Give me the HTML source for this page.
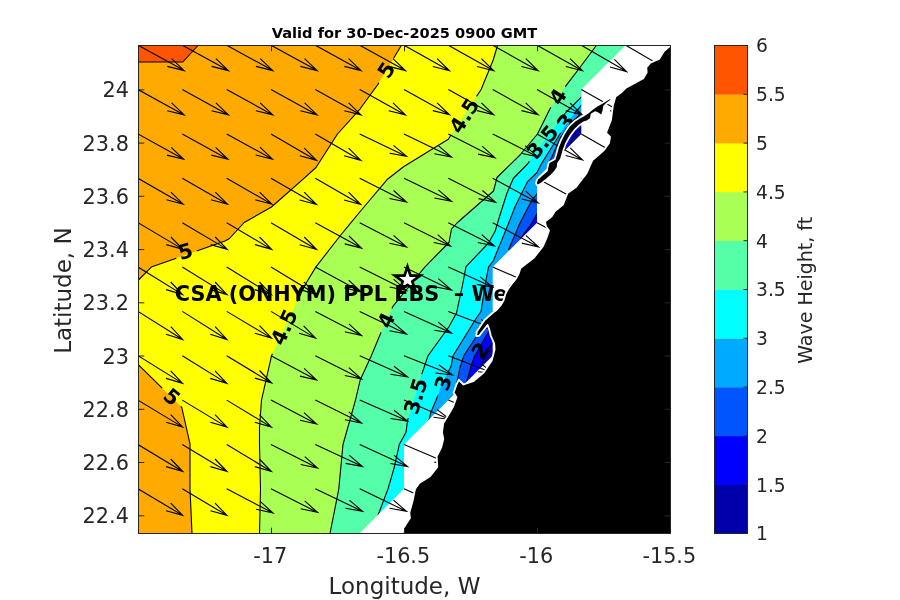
<!DOCTYPE html>
<html><head><meta charset="utf-8"><title>Wave Height</title>
<style>html,body{margin:0;padding:0;background:#fff}svg{display:block}text{font-family:"DejaVu Sans","Liberation Sans",sans-serif;fill:#262626}.b{font-weight:bold;fill:#000}</style></head><body>
<svg width="900" height="600" viewBox="0 0 900 600">
<rect width="900" height="600" fill="#fff"/>
<defs><clipPath id="ax"><rect x="138.5" y="45.5" width="532.0" height="488.0"/></clipPath>
<mask id="dat" maskUnits="userSpaceOnUse" x="0" y="0" width="900" height="600"><polygon points="138.0,45.2 625.7,45.2 581.3,89.6 581.3,133.9 537.0,178.3 537.0,222.7 492.7,267.0 492.7,355.7 404.0,444.5 404.0,488.8 359.7,533.2 138.0,533.2" fill="#fff"/></mask></defs>
<g mask="url(#dat)">
<rect x="100" y="0" width="640" height="600" fill="#ffaa00"/>
<polygon points="138.5,45.5 198.0,45.5 182.8,62.0 138.5,62.0" fill="#ff5500"/>
<polygon points="401.3,45.5 377.5,85.0 360.2,108.8 337.5,134.0 316.0,167.5 304.0,178.4 271.5,207.0 244.2,222.5 229.5,238.5 225.0,241.0 151.3,267.1 138.5,280.0 138.5,364.8 181.8,407.5 190.0,443.8 190.0,488.9 192.0,533.5 760.0,620.0 760.0,-20.0" fill="#ffff00"/>
<polygon points="497.5,45.5 493.2,60.0 481.0,89.7 448.3,139.2 403.5,166.7 387.5,179.2 360.2,211.5 351.0,222.7 340.0,236.0 315.8,267.1 305.0,285.0 271.5,355.8 261.5,400.2 259.5,427.5 259.5,444.5 260.5,488.9 259.5,533.5 259.5,620.0 760.0,620.0 760.0,-20.0" fill="#aaff55"/>
<polygon points="596.3,45.5 581.8,65.0 563.0,89.7 550.0,108.8 537.5,134.0 520.0,155.0 497.0,177.5 493.5,191.0 457.5,222.5 451.5,229.0 449.0,242.5 425.0,266.8 418.3,275.0 393.3,305.8 386.0,320.0 381.0,332.5 371.3,355.8 360.2,380.0 355.5,400.2 343.0,444.5 338.8,488.9 330.0,533.5 329.0,620.0 760.0,620.0 760.0,-20.0" fill="#55ffaa"/>
<polygon points="600.0,78.0 581.8,96.7 565.8,112.5 544.0,141.0 527.5,164.0 513.3,178.5 507.0,193.0 500.0,215.0 495.0,231.5 488.5,243.0 466.0,266.7 462.5,285.0 456.5,313.0 448.8,327.0 428.0,355.8 421.5,375.0 407.5,420.7 406.0,432.3 399.3,444.5 394.0,468.3 388.0,488.9 378.0,515.3 370.0,620.0 760.0,620.0 760.0,-20.0" fill="#00ffff"/>
<polygon points="610.0,76.0 581.8,104.6 566.7,123.3 558.3,136.7 541.7,163.3 537.0,172.5 527.5,181.7 515.0,206.7 508.3,224.0 493.2,261.0 488.5,267.1 486.0,280.0 481.0,311.5 476.7,317.5 472.5,324.3 453.0,355.8 451.0,366.3 442.5,382.8 436.0,400.2 430.8,412.5 429.0,420.0 420.0,620.0 760.0,620.0 760.0,-20.0" fill="#00aaff"/>
<polygon points="620.0,75.0 581.8,113.0 570.0,124.0 560.0,138.0 556.0,148.0 549.0,163.0 537.5,193.0 532.0,200.0 520.0,223.0 508.4,250.0 560.0,250.0 700.0,250.0" fill="#0055ff"/>
<polygon points="700.0,300.0 493.2,314.0 476.0,337.0 463.8,355.8 460.3,366.3 457.3,380.3 455.0,394.0 700.0,400.0" fill="#0055ff"/>
<polygon points="630.0,80.0 581.8,119.0 575.0,125.0 566.0,136.0 561.0,146.0 560.0,157.0 640.0,160.0" fill="#0000ff"/>
<polygon points="600.0,205.0 537.5,213.0 530.0,226.0 524.8,232.5 520.0,240.0 600.0,245.0" fill="#0000ff"/>
<polygon points="600.0,315.0 493.2,324.0 488.8,331.3 474.8,355.8 471.3,365.2 467.8,378.0 466.0,384.0 600.0,390.0" fill="#0000ff"/>
<polygon points="630.0,120.0 581.8,128.0 574.0,134.0 569.5,146.5 567.0,149.0 640.0,160.0" fill="#0000aa"/>
<polygon points="600.0,335.0 493.2,343.0 486.5,350.0 483.0,361.7 482.0,367.5 600.0,370.0" fill="#0000aa"/>
<g fill="none" stroke="#000" stroke-width="1.1" stroke-linejoin="round">
<polyline points="198.0,45.5 182.8,62.0 138.5,62.0"/>
<polyline points="401.3,45.5 393.8,58.0"/>
<polyline points="378.8,82.9 377.5,85.0 360.2,108.8 337.5,134.0 316.0,167.5 304.0,178.4 271.5,207.0 244.2,222.5 229.5,238.5 225.0,241.0 196.7,251.0"/>
<polyline points="176.3,258.2 151.3,267.1 138.5,280.0"/>
<polyline points="138.5,364.8 162.2,388.2"/>
<polyline points="180.7,406.4 181.8,407.5 190.0,443.8 190.0,488.9 192.0,533.5"/>
<polyline points="497.5,45.5 493.2,60.0 481.0,89.7 476.6,96.4"/>
<polyline points="451.2,134.8 448.3,139.2 403.5,166.7 387.5,179.2 360.2,211.5 351.0,222.7 340.0,236.0 315.8,267.1 305.0,285.0 297.2,301.5"/>
<polyline points="272.5,353.8 271.5,355.8 261.5,400.2 259.5,427.5 259.5,444.5 260.5,488.9 259.5,533.5"/>
<polyline points="596.3,45.5 581.8,65.0 565.3,86.7"/>
<polyline points="551.0,107.3 550.0,108.8 537.5,134.0 520.0,155.0 497.0,177.5 493.5,191.0 457.5,222.5 451.5,229.0 449.0,242.5 425.0,266.8 418.3,275.0 393.3,305.8 391.9,308.5"/>
<polyline points="381.1,332.3 381.0,332.5 371.3,355.8 360.2,380.0 355.5,400.2 343.0,444.5 338.8,488.9 330.0,533.5"/>
<polyline points="581.8,96.7 565.8,112.5 557.3,123.7"/>
<polyline points="529.4,161.4 527.5,164.0 513.3,178.5 507.0,193.0 500.0,215.0 495.0,231.5 488.5,243.0 466.0,266.7 462.5,285.0 456.5,313.0 448.8,327.0 428.0,355.8 421.8,374.1"/>
<polyline points="408.3,418.1 407.5,420.7 406.0,432.3 399.3,444.5 394.0,468.3 388.0,488.9 378.0,515.3"/>
<polyline points="581.8,104.6 574.2,113.9"/>
<polyline points="560.7,132.9 558.3,136.7 541.7,163.3 537.0,172.5 527.5,181.7 515.0,206.7 508.3,224.0 493.2,261.0 488.5,267.1 486.0,280.0 481.0,311.5 476.7,317.5 472.5,324.3 453.0,355.8 451.0,366.3 448.6,371.0"/>
<polyline points="437.8,395.5 436.0,400.2 430.8,412.5 429.0,420.0"/>
<polyline points="581.8,113.0 570.0,124.0 560.0,138.0 556.0,148.0 549.0,163.0 537.5,193.0 532.0,200.0 520.0,223.0 508.4,250.0"/>
<polyline points="493.2,314.0 476.0,337.0 463.8,355.8 460.3,366.3 457.3,380.3 455.0,394.0"/>
<polyline points="581.8,119.0 575.0,125.0 566.0,136.0 561.0,146.0 560.0,157.0"/>
<polyline points="537.5,213.0 530.0,226.0 524.8,232.5 520.0,240.0"/>
<polyline points="493.2,324.0 488.8,331.3 474.8,355.8 471.3,365.2 467.8,378.0 466.0,384.0"/>
<polyline points="581.8,128.0 574.0,134.0 569.5,146.5 567.0,149.0"/>
<polyline points="493.2,343.0 486.5,350.0 483.0,361.7 482.0,367.5"/>
</g></g>
<g clip-path="url(#ax)">
<path d="M138.0 45.2L184.2 70.6M167.3 66.4L184.2 70.6L171.6 58.6M182.3 45.2L228.5 70.6M211.6 66.4L228.5 70.6L215.9 58.6M226.7 45.2L272.9 70.6M255.9 66.4L272.9 70.6L260.2 58.6M271.0 45.2L317.2 70.6M300.3 66.4L317.2 70.6L304.6 58.6M315.3 45.2L361.1 70.6M344.3 66.4L361.1 70.6L348.6 58.6M359.7 45.2L405.5 70.6M388.7 66.4L405.5 70.6L393.0 58.6M404.0 45.2L449.5 70.8M432.8 66.5L449.5 70.8L437.1 58.7M448.3 45.2L493.8 70.8M477.1 66.5L493.8 70.8L481.4 58.7M492.7 45.2L538.2 70.8M521.4 66.5L538.2 70.8L525.8 58.7M537.0 45.2L582.5 70.8M565.8 66.5L582.5 70.8L570.1 58.7M581.3 45.2L626.6 71.6M609.9 67.0L626.6 71.6L614.4 59.3M625.7 45.2L671.0 71.6M654.2 67.0L671.0 71.6L658.7 59.3M670.0 45.2L715.3 71.6M698.6 67.0L715.3 71.6L703.0 59.3M138.0 89.6L184.2 114.9M167.3 110.7L184.2 114.9L171.6 102.8M182.3 89.6L228.5 114.9M211.6 110.7L228.5 114.9L215.9 102.8M226.7 89.6L272.9 114.9M255.9 110.7L272.9 114.9L260.2 102.8M271.0 89.6L317.2 114.9M300.3 110.7L317.2 114.9L304.6 102.8M315.3 89.6L361.1 114.9M344.3 110.7L361.1 114.9L348.6 102.9M359.7 89.6L405.5 114.9M388.7 110.7L405.5 114.9L393.0 102.9M404.0 89.6L449.5 114.8M432.8 110.6L449.5 114.8L437.1 102.8M448.3 89.6L493.8 114.8M477.1 110.6L493.8 114.8L481.4 102.8M492.7 89.6L538.2 114.8M521.5 110.6L538.2 114.8L525.7 102.8M537.0 89.6L582.3 115.0M565.7 110.7L582.3 115.0L570.0 103.0M581.3 89.6L626.6 115.0M610.0 110.7L626.6 115.0L614.3 103.0M625.7 89.6L671.0 115.0M654.3 110.7L671.0 115.0L658.6 103.0M670.0 89.6L715.3 115.0M698.7 110.7L715.3 115.0L703.0 103.0M138.0 133.9L183.7 159.3M166.9 155.1L183.7 159.3L171.2 147.3M182.3 133.9L228.0 159.3M211.3 155.1L228.0 159.3L215.6 147.3M226.7 133.9L272.5 159.2M255.7 155.0L272.5 159.2L260.0 147.2M271.0 133.9L316.6 160.4M299.8 155.8L316.6 160.4L304.3 148.1M315.3 133.9L360.9 160.4M344.1 155.8L360.9 160.4L348.6 148.1M359.7 133.9L406.6 156.4M389.7 153.2L406.6 156.4L393.5 145.3M404.0 133.9L451.6 157.0M434.4 153.7L451.6 157.0L438.3 145.6M448.3 133.9L495.0 157.7M478.1 154.1L495.0 157.7L482.1 146.2M492.7 133.9L537.5 156.7M521.2 153.2L537.5 156.7L525.1 145.6M537.0 133.9L582.5 160.0M565.7 155.5L582.5 160.0L570.2 147.8M581.3 133.9L626.8 160.0M610.1 155.5L626.8 160.0L614.5 147.8M625.7 133.9L671.2 160.0M654.4 155.5L671.2 160.0L658.8 147.8M670.0 133.9L715.5 160.0M698.7 155.5L715.5 160.0L703.2 147.8M138.0 178.3L183.2 204.2M166.5 199.7L183.2 204.2L170.9 192.1M182.3 178.3L227.5 204.2M210.9 199.7L227.5 204.2L215.3 192.1M226.7 178.3L271.9 204.2M255.2 199.7L271.9 204.2L259.6 192.1M271.0 178.3L316.5 204.5M299.7 200.0L316.5 204.5L304.2 192.2M315.3 178.3L360.8 204.5M344.1 200.0L360.8 204.5L348.5 192.2M359.7 178.3L406.6 202.1M389.5 198.5L406.6 202.1L393.6 190.5M404.0 178.3L451.6 201.3M434.4 198.0L451.6 201.3L438.3 189.9M448.3 178.3L495.6 202.2M478.5 198.6L495.6 202.2L482.5 190.5M492.7 178.3L538.3 203.0M521.6 199.0L538.3 203.0L525.8 191.2M537.0 178.3L582.6 203.0M565.9 199.0L582.6 203.0L570.1 191.2M581.3 178.3L626.9 203.0M610.2 199.0L626.9 203.0L614.4 191.2M625.7 178.3L671.3 203.0M654.6 199.0L671.3 203.0L658.8 191.2M670.0 178.3L715.6 203.0M698.9 199.0L715.6 203.0L703.1 191.2M138.0 222.7L183.0 249.4M166.3 244.6L183.0 249.4L170.9 237.0M182.3 222.7L227.3 249.4M210.7 244.6L227.3 249.4L215.2 237.0M226.7 222.7L271.7 249.4M255.0 244.6L271.7 249.4L259.5 237.0M271.0 222.7L316.6 249.5M299.7 244.7L316.6 249.5L304.3 237.0M315.3 222.7L361.6 248.1M344.7 243.9L361.6 248.1L349.0 236.0M359.7 222.7L406.6 247.1M389.5 243.2L406.6 247.1L393.6 235.3M404.0 222.7L450.6 246.1M433.7 242.5L450.6 246.1L437.7 234.6M448.3 222.7L494.6 246.1M477.8 242.5L494.6 246.1L481.8 234.6M492.7 222.7L538.6 247.1M521.8 243.1L538.6 247.1L525.9 235.4M537.0 222.7L582.9 247.1M566.1 243.1L582.9 247.1L570.3 235.4M581.3 222.7L627.2 247.1M610.5 243.1L627.2 247.1L614.6 235.4M625.7 222.7L671.6 247.1M654.8 243.1L671.6 247.1L658.9 235.4M670.0 222.7L715.9 247.1M699.1 243.1L715.9 247.1L703.3 235.4M138.0 267.0L182.7 294.6M166.1 289.6L182.7 294.6L170.7 282.0M182.3 267.0L227.0 294.6M210.4 289.6L227.0 294.6L215.1 282.0M226.7 267.0L271.4 294.6M254.7 289.6L271.4 294.6L259.4 282.0M271.0 267.0L316.0 294.3M299.3 289.4L316.0 294.3L303.9 281.8M315.3 267.0L361.3 292.0M344.5 287.9L361.3 292.0L348.7 280.1M359.7 267.0L406.6 290.6M389.6 287.0L406.6 290.6L393.6 279.1M404.0 267.0L451.6 290.1M434.4 286.8L451.6 290.1L438.3 278.7M448.3 267.0L492.6 287.0M476.8 284.4L492.6 287.0L480.2 276.9M492.7 267.0L537.7 286.6M521.6 284.2L537.7 286.6L524.9 276.5M537.0 267.0L582.0 286.6M565.9 284.2L582.0 286.6L569.3 276.5M581.3 267.0L626.3 286.6M610.3 284.2L626.3 286.6L613.6 276.5M625.7 267.0L670.7 286.6M654.6 284.2L670.7 286.6L657.9 276.5M670.0 267.0L715.0 286.6M698.9 284.2L715.0 286.6L702.3 276.5M138.0 311.4L182.7 339.5M166.0 334.3L182.7 339.5L170.8 326.7M182.3 311.4L227.0 339.5M210.3 334.3L227.0 339.5L215.1 326.7M226.7 311.4L271.6 338.1M254.9 333.3L271.6 338.1L259.5 325.7M271.0 311.4L315.6 338.1M299.1 333.3L315.6 338.1L303.6 325.8M315.3 311.4L361.6 335.5M344.8 331.7L361.6 335.5L348.9 323.8M359.7 311.4L406.6 334.1M389.6 330.8L406.6 334.1L393.5 322.8M404.0 311.4L451.6 333.1M434.5 330.2L451.6 333.1L438.2 322.1M448.3 311.4L494.3 329.0M478.1 327.3L494.3 329.0L481.1 319.4M492.7 311.4L538.7 329.0M522.5 327.3L538.7 329.0L525.4 319.4M537.0 311.4L583.0 329.0M566.8 327.3L583.0 329.0L569.8 319.4M581.3 311.4L627.3 329.0M611.1 327.3L627.3 329.0L614.1 319.4M625.7 311.4L671.7 329.0M655.5 327.3L671.7 329.0L658.4 319.4M670.0 311.4L716.0 329.0M699.8 327.3L716.0 329.0L702.8 319.4M138.0 355.7L182.6 383.4M166.0 378.4L182.6 383.4L170.7 370.8M182.3 355.7L226.9 383.4M210.3 378.4L226.9 383.4L215.0 370.8M226.7 355.7L271.6 383.0M254.9 378.1L271.6 383.0L259.5 370.5M271.0 355.7L316.6 380.0M299.9 376.1L316.6 380.0L304.1 368.4M315.3 355.7L361.6 379.0M344.8 375.5L361.6 379.0L348.8 367.7M359.7 355.7L407.6 377.0M390.4 374.3L407.6 377.0L394.0 366.2M404.0 355.7L452.6 375.0M435.4 373.0L452.6 375.0L438.7 364.7M448.3 355.7L494.3 373.5M478.1 371.8L494.3 373.5L481.1 363.9M492.7 355.7L538.7 373.5M522.4 371.8L538.7 373.5L525.5 363.9M537.0 355.7L583.0 373.5M566.8 371.8L583.0 373.5L569.8 363.9M581.3 355.7L627.3 373.5M611.1 371.8L627.3 373.5L614.1 363.9M625.7 355.7L671.7 373.5M655.4 371.8L671.7 373.5L658.5 363.9M670.0 355.7L716.0 373.5M699.8 371.8L716.0 373.5L702.8 363.9M138.0 400.1L182.7 427.1M166.1 422.3L182.7 427.1L170.7 414.7M182.3 400.1L227.0 427.1M210.4 422.3L227.0 427.1L215.0 414.7M226.7 400.1L271.4 427.1M254.8 422.3L271.4 427.1L259.4 414.7M271.0 400.1L316.6 424.1M300.0 420.3L316.6 424.1L304.0 412.6M315.3 400.1L361.6 423.1M344.9 419.7L361.6 423.1L348.8 411.8M359.7 400.1L407.6 421.1M390.5 418.5L407.6 421.1L394.0 410.3M404.0 400.1L450.0 419.5M433.6 417.2L450.0 419.5L436.9 409.4M448.3 400.1L494.3 419.5M478.0 417.2L494.3 419.5L481.3 409.4M492.7 400.1L538.7 419.5M522.3 417.2L538.7 419.5L525.6 409.4M537.0 400.1L583.0 419.5M566.6 417.2L583.0 419.5L569.9 409.4M581.3 400.1L627.3 419.5M611.0 417.2L627.3 419.5L614.3 409.4M625.7 400.1L671.7 419.5M655.3 417.2L671.7 419.5L658.6 409.4M670.0 400.1L716.0 419.5M699.6 417.2L716.0 419.5L702.9 409.4M138.0 444.5L182.7 471.5M166.1 466.6L182.7 471.5L170.7 459.0M182.3 444.5L227.0 471.5M210.4 466.6L227.0 471.5L215.0 459.0M226.7 444.5L271.4 471.5M254.8 466.6L271.4 471.5L259.4 459.0M271.0 444.5L317.6 468.1M300.7 464.5L317.6 468.1L304.7 456.6M315.3 444.5L362.6 466.5M345.6 463.4L362.6 466.5L349.4 455.4M359.7 444.5L407.6 466.5M390.4 463.5L407.6 466.5L394.1 455.4M404.0 444.5L451.0 464.5M434.3 462.1L451.0 464.5L437.7 454.1M448.3 444.5L495.3 464.5M478.6 462.1L495.3 464.5L482.0 454.1M492.7 444.5L539.7 464.5M522.9 462.1L539.7 464.5L526.3 454.1M537.0 444.5L584.0 464.5M567.3 462.1L584.0 464.5L570.7 454.1M581.3 444.5L628.3 464.5M611.6 462.1L628.3 464.5L615.0 454.1M625.7 444.5L672.7 464.5M655.9 462.1L672.7 464.5L659.3 454.1M670.0 444.5L717.0 464.5M700.3 462.1L717.0 464.5L703.7 454.1M138.0 488.8L182.7 515.4M166.1 510.7L182.7 515.4L170.7 503.1M182.3 488.8L227.0 515.4M210.5 510.7L227.0 515.4L215.0 503.1M226.7 488.8L273.0 513.0M256.1 509.2L273.0 513.0L260.2 501.4M271.0 488.8L317.6 512.4M300.7 508.8L317.6 512.4L304.7 500.9M315.3 488.8L362.6 511.4M345.6 508.2L362.6 511.4L349.4 500.2M359.7 488.8L406.6 511.4M389.6 508.2L406.6 511.4L393.5 500.2M404.0 488.8L451.0 509.8M434.2 507.1L451.0 509.8L437.7 499.1M448.3 488.8L495.3 509.8M478.5 507.1L495.3 509.8L482.1 499.1M492.7 488.8L539.7 509.8M522.8 507.1L539.7 509.8L526.4 499.1M537.0 488.8L584.0 509.8M567.2 507.1L584.0 509.8L570.7 499.1M581.3 488.8L628.3 509.8M611.5 507.1L628.3 509.8L615.1 499.1M625.7 488.8L672.7 509.8M655.8 507.1L672.7 509.8L659.4 499.1M670.0 488.8L717.0 509.8M700.2 507.1L717.0 509.8L703.7 499.1M138.0 533.2L182.7 559.2M166.2 554.7L182.7 559.2L170.6 547.1M182.3 533.2L227.0 559.2M210.5 554.7L227.0 559.2L214.9 547.1M226.7 533.2L271.4 559.2M254.9 554.7L271.4 559.2L259.3 547.1M271.0 533.2L315.7 559.2M299.2 554.7L315.7 559.2L303.6 547.1M315.3 533.2L360.0 559.2M343.5 554.7L360.0 559.2L347.9 547.1M359.7 533.2L404.4 559.2M387.9 554.7L404.4 559.2L392.3 547.1M404.0 533.2L448.7 559.2M432.2 554.7L448.7 559.2L436.6 547.1M448.3 533.2L493.0 559.2M476.5 554.7L493.0 559.2L480.9 547.1M492.7 533.2L537.4 559.2M520.9 554.7L537.4 559.2L525.3 547.1M537.0 533.2L581.7 559.2M565.2 554.7L581.7 559.2L569.6 547.1M581.3 533.2L626.0 559.2M609.5 554.7L626.0 559.2L613.9 547.1M625.7 533.2L670.4 559.2M653.9 554.7L670.4 559.2L658.3 547.1M670.0 533.2L714.7 559.2M698.2 554.7L714.7 559.2L702.6 547.1" fill="none" stroke="#000" stroke-width="1.1"/>
<polygon points="407.5,266.6 410.5,275.7 420.1,275.7 412.3,281.4 415.3,290.5 407.5,284.8 399.7,290.5 402.7,281.4 394.9,275.7 404.5,275.7" fill="#fff" stroke="#000" stroke-width="2.7" stroke-miterlimit="10"/>
<text class="b" font-size="20.6" text-anchor="middle" transform="translate(386.0 70.0) rotate(-57)" y="7.5">5</text>
<text class="b" font-size="20.6" text-anchor="middle" transform="translate(185.3 251.0) rotate(-16)" y="7.5">5</text>
<text class="b" font-size="20.6" text-anchor="middle" transform="translate(172.0 396.5) rotate(40)" y="7.5">5</text>
<text class="b" font-size="20.6" text-anchor="middle" transform="translate(464.0 115.5) rotate(-57)" y="7.5">4.5</text>
<text class="b" font-size="20.6" text-anchor="middle" transform="translate(283.8 327.0) rotate(-65)" y="7.5">4.5</text>
<text class="b" font-size="20.6" text-anchor="middle" transform="translate(557.5 96.5) rotate(-57)" y="7.5">4</text>
<text class="b" font-size="20.6" text-anchor="middle" transform="translate(386.0 320.0) rotate(-65)" y="7.5">4</text>
<text class="b" font-size="20.6" text-anchor="middle" transform="translate(542.3 141.7) rotate(-50)" y="7.5">3.5</text>
<text class="b" font-size="20.6" text-anchor="middle" transform="translate(415.5 396.0) rotate(-73)" y="7.5">3.5</text>
<text class="b" font-size="20.6" text-anchor="middle" transform="translate(565.5 121.8) rotate(-52)" y="7.5">3</text>
<text class="b" font-size="20.6" text-anchor="middle" transform="translate(443.0 383.0) rotate(-70)" y="7.5">3</text>
<text class="b" font-size="20.6" text-anchor="middle" transform="translate(480.0 350.6) rotate(-52)" y="7.5">2</text>
<text class="b" font-size="20.8" x="174.8" y="301" xml:space="preserve">CSA (ONHYM) PPL EBS  – Well</text>
<polygon points="680.0,36.0 671.0,45.0 664.0,51.0 659.0,59.0 650.3,62.7 646.3,67.5 646.7,72.5 643.0,78.5 625.5,88.0 621.0,92.5 615.5,96.5 613.0,105.0 611.0,120.0 606.0,133.0 610.0,137.0 609.0,143.0 604.0,150.0 592.5,160.0 588.0,170.0 586.0,174.0 579.0,183.0 576.0,187.0 567.5,193.0 563.0,204.5 555.0,211.0 551.5,216.5 545.0,221.5 546.0,226.5 549.0,230.5 546.5,238.0 543.0,246.0 540.0,250.0 534.0,257.5 520.5,268.0 518.5,274.0 515.7,279.0 511.3,284.5 508.0,289.0 505.5,293.5 503.5,300.5 500.5,305.5 496.5,310.0 493.0,312.5 484.2,320.4 476.8,331.5 476.2,336.0 479.2,335.8 487.5,325.0 489.2,329.2 490.8,335.8 494.2,343.5 494.6,349.5 491.7,360.5 483.7,372.5 473.2,381.2 463.5,384.5 458.8,379.8 456.5,384.5 453.6,392.7 456.5,397.3 453.0,406.7 447.0,417.0 443.3,423.0 442.0,432.3 443.3,439.0 441.3,447.0 436.7,456.3 437.3,467.0 430.0,476.3 419.3,483.0 415.0,489.0 412.7,500.7 409.3,512.7 410.0,518.0 404.7,526.0 402.3,534.0 401.0,545.0 680.0,545.0" fill="#000" stroke="#fff" stroke-width="1.8" stroke-linejoin="round"/>
<polygon points="610.2,99.1 603.3,103.2 597.5,106.6 592.5,110.0 588.7,113.2 584.2,116.2 580.0,118.6 575.0,121.7 569.5,127.0 565.0,134.0 561.5,141.0 559.0,147.3 557.0,154.7 555.5,159.7 549.5,163.0 548.4,167.2 547.7,171.3 542.6,175.5 538.0,179.7 536.8,183.0 537.6,184.6 540.5,183.0 544.7,179.7 549.8,175.5 554.0,171.3 556.7,167.2 557.2,163.0 560.1,158.8 561.2,155.0 562.6,150.0 565.2,143.0 569.5,135.3 574.0,129.3 579.0,124.6 583.3,121.5 586.7,120.4 590.0,118.3 590.8,113.8 595.0,111.3 597.5,112.1 601.2,114.6 602.5,110.8 603.3,105.8 605.8,103.3 610.4,99.7" fill="#000" stroke="#fff" stroke-width="3.4" stroke-linejoin="round" paint-order="stroke"/>
</g>
<g fill="none" stroke="#262626" stroke-width="1">
<rect x="138.5" y="45.5" width="532.0" height="488.0"/>
<path d="M271.5 533.5v-5.8M271.5 45.5v5.8M404.5 533.5v-5.8M404.5 45.5v5.8M537.5 533.5v-5.8M537.5 45.5v5.8M670.5 533.5v-5.8M670.5 45.5v5.8M138.5 515.8h5.8M670.5 515.8h-5.8M138.5 462.5h5.8M670.5 462.5h-5.8M138.5 409.3h5.8M670.5 409.3h-5.8M138.5 356.0h5.8M670.5 356.0h-5.8M138.5 302.8h5.8M670.5 302.8h-5.8M138.5 249.6h5.8M670.5 249.6h-5.8M138.5 196.3h5.8M670.5 196.3h-5.8M138.5 143.1h5.8M670.5 143.1h-5.8M138.5 89.9h5.8M670.5 89.9h-5.8"/>
</g>
<text font-size="20.8" text-anchor="middle" x="270.3" y="563">-17</text>
<text font-size="20.8" text-anchor="middle" x="403.3" y="563">-16.5</text>
<text font-size="20.8" text-anchor="middle" x="536.3" y="563">-16</text>
<text font-size="20.8" text-anchor="middle" x="669.3" y="563">-15.5</text>
<text font-size="20.8" text-anchor="end" x="128.9" y="523.3">22.4</text>
<text font-size="20.8" text-anchor="end" x="128.9" y="470.0">22.6</text>
<text font-size="20.8" text-anchor="end" x="128.9" y="416.8">22.8</text>
<text font-size="20.8" text-anchor="end" x="128.9" y="363.5">23</text>
<text font-size="20.8" text-anchor="end" x="128.9" y="310.3">23.2</text>
<text font-size="20.8" text-anchor="end" x="128.9" y="257.1">23.4</text>
<text font-size="20.8" text-anchor="end" x="128.9" y="203.8">23.6</text>
<text font-size="20.8" text-anchor="end" x="128.9" y="150.6">23.8</text>
<text font-size="20.8" text-anchor="end" x="128.9" y="97.4">24</text>
<text font-size="23" text-anchor="middle" x="404.5" y="593.7">Longitude, W</text>
<text font-size="23" text-anchor="middle" transform="translate(70.6 290.6) rotate(-90)">Latitude, N</text>
<text font-size="14.6" font-weight="bold" style="fill:#000" text-anchor="middle" x="404.5" y="38">Valid for 30-Dec-2025 0900 GMT</text>
<rect x="714.5" y="484.70" width="33.0" height="49.10" fill="#0000aa"/>
<rect x="714.5" y="435.90" width="33.0" height="49.10" fill="#0000ff"/>
<rect x="714.5" y="387.10" width="33.0" height="49.10" fill="#0055ff"/>
<rect x="714.5" y="338.30" width="33.0" height="49.10" fill="#00aaff"/>
<rect x="714.5" y="289.50" width="33.0" height="49.10" fill="#00ffff"/>
<rect x="714.5" y="240.70" width="33.0" height="49.10" fill="#55ffaa"/>
<rect x="714.5" y="191.90" width="33.0" height="49.10" fill="#aaff55"/>
<rect x="714.5" y="143.10" width="33.0" height="49.10" fill="#ffff00"/>
<rect x="714.5" y="94.30" width="33.0" height="49.10" fill="#ffaa00"/>
<rect x="714.5" y="45.50" width="33.0" height="49.10" fill="#ff5500"/>
<rect x="714.5" y="45.5" width="33.0" height="488.0" fill="none" stroke="#262626" stroke-width="1"/>
<path d="M747.5 484.7h-4M747.5 435.9h-4M747.5 387.1h-4M747.5 338.3h-4M747.5 289.5h-4M747.5 240.7h-4M747.5 191.9h-4M747.5 143.1h-4M747.5 94.3h-4" fill="none" stroke="#262626" stroke-width="1"/>
<text font-size="18.7" x="756" y="540.3">1</text>
<text font-size="18.7" x="756" y="491.5">1.5</text>
<text font-size="18.7" x="756" y="442.7">2</text>
<text font-size="18.7" x="756" y="393.9">2.5</text>
<text font-size="18.7" x="756" y="345.1">3</text>
<text font-size="18.7" x="756" y="296.3">3.5</text>
<text font-size="18.7" x="756" y="247.5">4</text>
<text font-size="18.7" x="756" y="198.7">4.5</text>
<text font-size="18.7" x="756" y="149.9">5</text>
<text font-size="18.7" x="756" y="101.1">5.5</text>
<text font-size="18.7" x="756" y="52.3">6</text>
<text font-size="19" text-anchor="middle" transform="translate(812 290.3) rotate(-90)">Wave Height, ft</text>
</svg></body></html>
